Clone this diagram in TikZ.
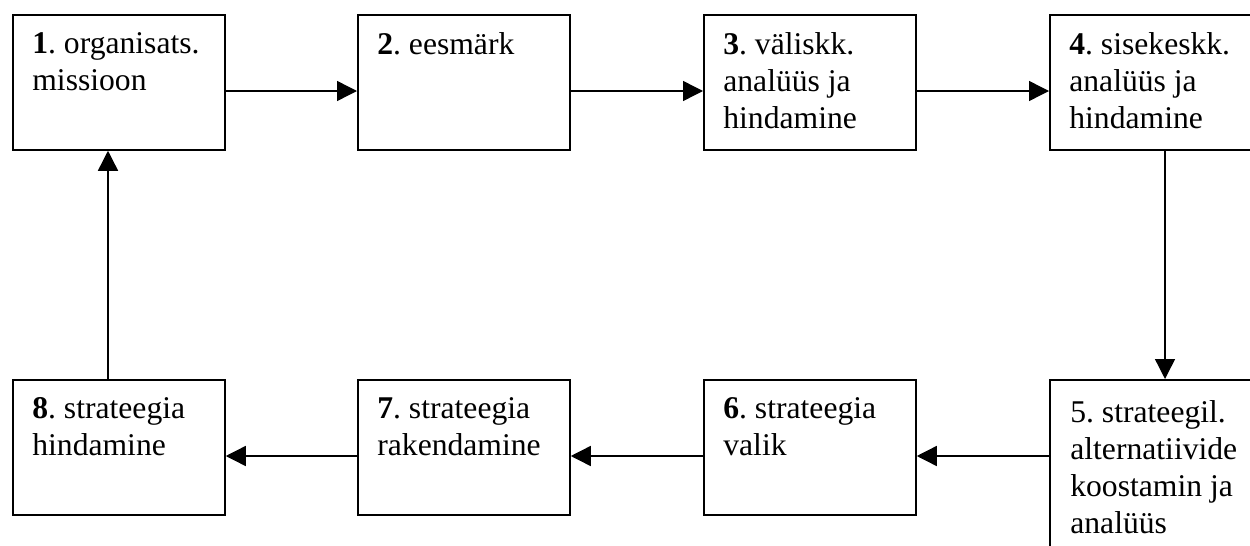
\documentclass[tikz,border=0pt]{standalone}
\usepackage{fontspec}
\setmainfont{Liberation Serif}
\frenchspacing
\usetikzlibrary{arrows.meta}

\begin{document}
\begin{tikzpicture}[
    box/.style={draw, line width=1pt, minimum width=4.24cm, minimum height=2.7cm, inner sep=0pt, anchor=north west},
    lbl/.style={anchor=north west, align=left, inner sep=0pt, font=\fontsize{18}{21}\selectfont},
    arr/.style={-{Triangle[length=0.4cm,width=0.4cm]}, line width=0.8pt}
]
    % Fix the page size
    \useasboundingbox (0,0) rectangle (25,10.9);
    \clip (0,0) rectangle (25,10.9);

    % Top row of boxes
    \node[box] (b1) at (0.24,10.62) {};
    \node[box] (b2) at (7.14,10.62) {};
    \node[box] (b3) at (14.06,10.62) {};
    \node[box] (b4) at (20.98,10.62) {};

    % Bottom row of boxes (box 5 is taller)
    \node[box, minimum height=3.8cm] (b5) at (20.98,3.32) {};
    \node[box] (b6) at (14.06,3.32) {};
    \node[box] (b7) at (7.14,3.32) {};
    \node[box] (b8) at (0.24,3.32) {};

    % Texts in the boxes
    \node[lbl] (t1) at ([xshift=0.4cm,yshift=-0.37cm]b1.north west) {\textbf{1}. organisats.\\missioon};
    \node[lbl] (t2) at ([xshift=0.4cm,yshift=-0.37cm]b2.north west) {\textbf{2}. eesmärk};
    \node[lbl] (t3) at ([xshift=0.4cm,yshift=-0.37cm]b3.north west) {\textbf{3}. väliskk.\\analüüs ja\\hindamine};
    \node[lbl] (t4) at ([xshift=0.4cm,yshift=-0.37cm]b4.north west) {\textbf{4}. sisekeskk.\\analüüs ja\\hindamine};
    \node[lbl] (t5) at ([xshift=0.42cm,yshift=-0.43cm]b5.north west) {5. strateegil.\\alternatiivide\\koostamin ja\\analüüs};
    \node[lbl] (t6) at ([xshift=0.4cm,yshift=-0.37cm]b6.north west) {\textbf{6}. strateegia\\valik};
    \node[lbl] (t7) at ([xshift=0.4cm,yshift=-0.37cm]b7.north west) {\textbf{7}. strateegia\\rakendamine};
    \node[lbl] (t8) at ([xshift=0.4cm,yshift=-0.37cm]b8.north west) {\textbf{8}. strateegia\\hindamine};

    % Arrows along the top row
    \draw[arr] ([yshift=-1.54cm]b1.north east) -- ([yshift=-1.54cm]b2.north west);
    \draw[arr] ([yshift=-1.54cm]b2.north east) -- ([yshift=-1.54cm]b3.north west);
    \draw[arr] ([yshift=-1.54cm]b3.north east) -- ([yshift=-1.54cm]b4.north west);

    % Down on the right
    \draw[arr] ([xshift=2.32cm]b4.south west) -- ([xshift=2.32cm]b5.north west);

    % Arrows along the bottom row
    \draw[arr] ([yshift=-1.54cm]b5.north west) -- ([yshift=-1.54cm]b6.north east);
    \draw[arr] ([yshift=-1.54cm]b6.north west) -- ([yshift=-1.54cm]b7.north east);
    \draw[arr] ([yshift=-1.54cm]b7.north west) -- ([yshift=-1.54cm]b8.north east);

    % Back up on the left
    \draw[arr] ([xshift=1.92cm]b8.north west) -- ([xshift=1.92cm]b1.south west);
\end{tikzpicture}
\end{document}
